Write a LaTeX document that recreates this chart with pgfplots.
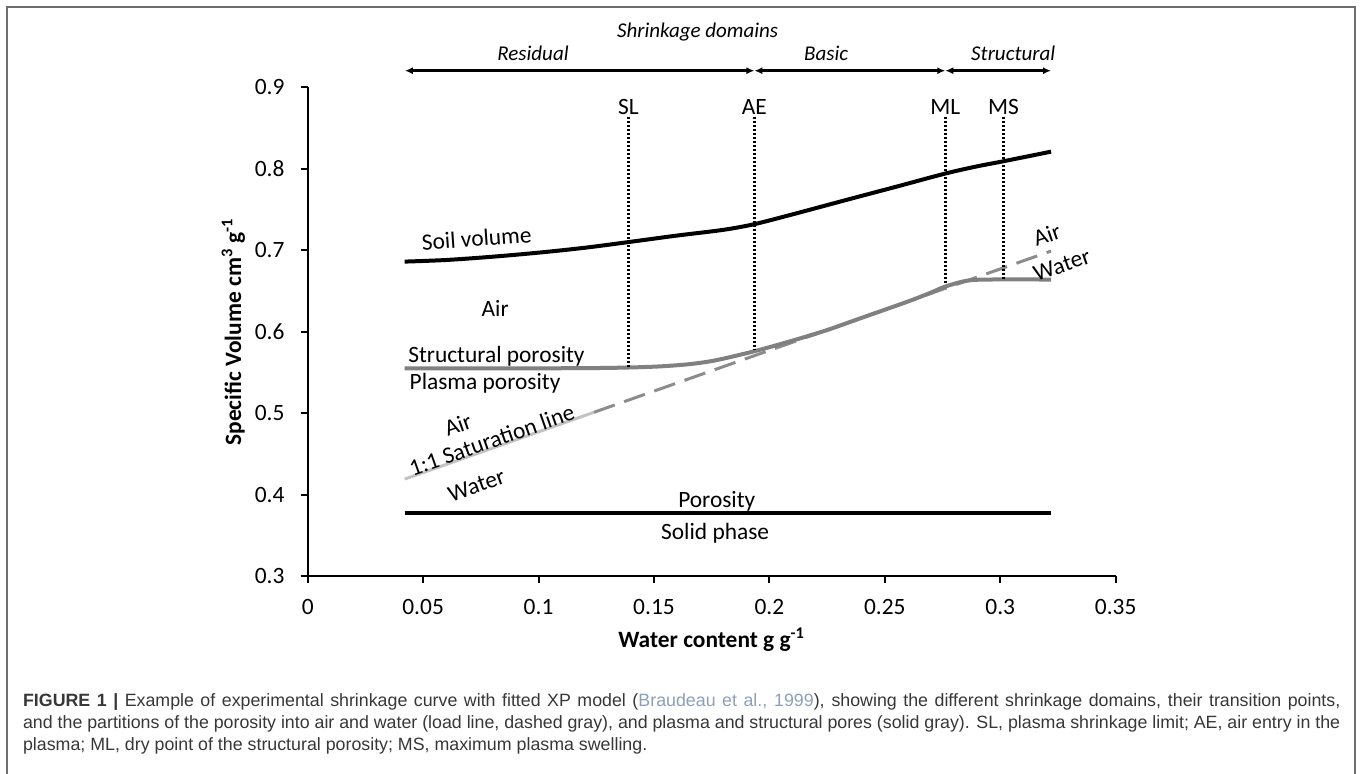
\documentclass[border=0pt]{standalone}
\usepackage{pgfplots}
\pgfplotsset{compat=1.18}
\usepackage{fontspec}
\setmainfont{Carlito}
\newfontfamily\capfont{Liberation Sans}
\usetikzlibrary{arrows.meta}

\definecolor{curvegray}{RGB}{128,128,128}
\definecolor{dashgray}{RGB}{140,140,140}
\definecolor{lightline}{RGB}{195,195,195}
\definecolor{framegray}{RGB}{110,110,110}
\definecolor{captext}{RGB}{55,55,55}
\definecolor{citeblue}{RGB}{140,160,185}

\newcommand\domfont{\fontsize{10.5}{12.5}\selectfont\itshape}

\begin{document}
\fontsize{11.7}{14}\selectfont
\begin{tikzpicture}
\useasboundingbox (-153.85pt,-98.5pt) rectangle (526.15pt,288pt);
\draw[framegray, line width=1pt] (-150.1pt,-100pt) -- (-150.1pt,284.75pt) -- (523.65pt,284.75pt) -- (523.65pt,-100pt);

\begin{axis}[
    at={(0pt,0pt)}, anchor=south west,
    scale only axis, width=404pt, height=244.35pt,
    xmin=0, xmax=0.35, ymin=0.3, ymax=0.9,
    axis lines*=left,
    axis line style={line width=1pt, black},
    xtick={0,0.05,0.1,0.15,0.2,0.25,0.3,0.35},
    xticklabels={0,0.05,0.1,0.15,0.2,0.25,0.3,0.35},
    ytick={0.3,0.4,0.5,0.6,0.7,0.8,0.9},
    yticklabels={0.3,0.4,0.5,0.6,0.7,0.8,0.9},
    tick align=outside, major tick length=3.5pt,
    tick style={line width=1pt, black},
    xticklabel style={yshift=-4pt},
    yticklabel style={xshift=-4pt},
    xlabel={\textbf{Water content g g\textsuperscript{-1}}},
    ylabel={\textbf{Specific Volume cm\textsuperscript{3} g\textsuperscript{-1}}},
    xlabel style={at={(axis description cs:0.5,-0.13)}, anchor=center},
    ylabel style={at={(axis description cs:-0.092,0.5)}, anchor=center},
    clip=false,
]

% soil volume
\addplot[black, line width=2pt, smooth] coordinates {
    (0.042,0.686) (0.06,0.688) (0.08,0.692) (0.10,0.697) (0.12,0.703)
    (0.139,0.710) (0.16,0.718) (0.18,0.725) (0.1935,0.732) (0.21,0.744)
    (0.235,0.763) (0.255,0.778) (0.276,0.794) (0.29,0.803) (0.301,0.809)
    (0.322,0.821)
};

% saturation line
\addplot[lightline, line width=1.5pt] coordinates {(0.042,0.419) (0.124,0.501)};
\addplot[dashgray, line width=1.5pt, dash pattern=on 11pt off 5pt] coordinates {(0.124,0.501) (0.322,0.699)};

% structural / plasma porosity boundary
\addplot[curvegray, line width=2pt, smooth] coordinates {
    (0.042,0.555) (0.10,0.555) (0.13,0.5555) (0.15,0.557) (0.165,0.560)
    (0.177,0.565) (0.1935,0.576) (0.21,0.589) (0.225,0.602) (0.24,0.617)
    (0.26,0.637) (0.27,0.648) (0.2763,0.6555) (0.2855,0.6625) (0.295,0.664)
    (0.322,0.664)
};

% solid phase
\addplot[black, line width=2pt] coordinates {(0.042,0.377) (0.322,0.377)};

% transition points
\addplot[black, line width=1.3pt, dash pattern=on 1pt off 1pt] coordinates {(0.1389,0.864) (0.1389,0.557)};
\addplot[black, line width=1.3pt, dash pattern=on 1pt off 1pt] coordinates {(0.1935,0.864) (0.1935,0.579)};
\addplot[black, line width=1.3pt, dash pattern=on 1pt off 1pt] coordinates {(0.2762,0.864) (0.2762,0.658)};
\addplot[black, line width=1.3pt, dash pattern=on 1pt off 1pt] coordinates {(0.3014,0.864) (0.3014,0.663)};

% shrinkage domains
\addplot[black, line width=1.2pt, arrows={Latex[length=4pt,width=3.5pt]-Latex[length=4pt,width=3.5pt]}] coordinates {(0.0421,0.9204) (0.1935,0.9204)};
\addplot[black, line width=1.2pt, arrows={Latex[length=4pt,width=3.5pt]-Latex[length=4pt,width=3.5pt]}] coordinates {(0.1935,0.9204) (0.2762,0.9204)};
\addplot[black, line width=1.2pt, arrows={Latex[length=4pt,width=3.5pt]-Latex[length=4pt,width=3.5pt]}] coordinates {(0.2762,0.9204) (0.322,0.9204)};

\node[font=\domfont] at (axis cs:0.1689,0.968) {Shrinkage domains};
\node[font=\domfont] at (axis cs:0.0976,0.9418) {Residual};
\node[font=\domfont] at (axis cs:0.2246,0.9418) {Basic};
\node[font=\domfont] at (axis cs:0.3056,0.9418) {Structural};

\node at (axis cs:0.1389,0.876) {SL};
\node at (axis cs:0.1935,0.876) {AE};
\node at (axis cs:0.2762,0.876) {ML};
\node at (axis cs:0.3014,0.876) {MS};

\node[rotate=4] at (axis cs:0.0732,0.7146) {Soil volume};
\node at (axis cs:0.0812,0.6287) {Air};
\node[anchor=west, inner sep=0pt] at (axis cs:0.0434,0.570) {Structural porosity};
\node[anchor=west, inner sep=0pt] at (axis cs:0.0440,0.5366) {Plasma porosity};
\node[rotate=19.4, inner sep=0pt] at (axis cs:0.0651,0.486) {Air};
\node[rotate=19.4, inner sep=0pt] at (axis cs:0.0797,0.467) {1:1 Saturation line};
\node[rotate=19.4, inner sep=0pt] at (axis cs:0.0731,0.4112) {Water};
\node at (axis cs:0.1772,0.3912) {Porosity};
\node at (axis cs:0.1765,0.3524) {Solid phase};
\node[rotate=19] at (axis cs:0.3202,0.7187) {Air};
\node[rotate=19] at (axis cs:0.3267,0.6818) {Water};
\end{axis}

\begin{scope}[every node/.style={anchor=base west, inner sep=0pt, text=captext, font=\capfont\fontsize{8.9}{11}\selectfont}]
\node at (-142.5pt,-65pt) {\makebox[658.6pt][s]{\textbf{FIGURE 1 |} Example of experimental shrinkage curve with fitted XP model ({\color{citeblue}Braudeau et al., 1999}), showing the different shrinkage domains, their transition points,}};
\node at (-142.5pt,-76pt) {\makebox[658.6pt][s]{and the partitions of the porosity into air and water (load line, dashed gray), and plasma and structural pores (solid gray). SL, plasma shrinkage limit; AE, air entry in the}};
\node at (-142.5pt,-87pt) {plasma; ML, dry point of the structural porosity; MS, maximum plasma swelling.};
\end{scope}
\end{tikzpicture}
\end{document}
